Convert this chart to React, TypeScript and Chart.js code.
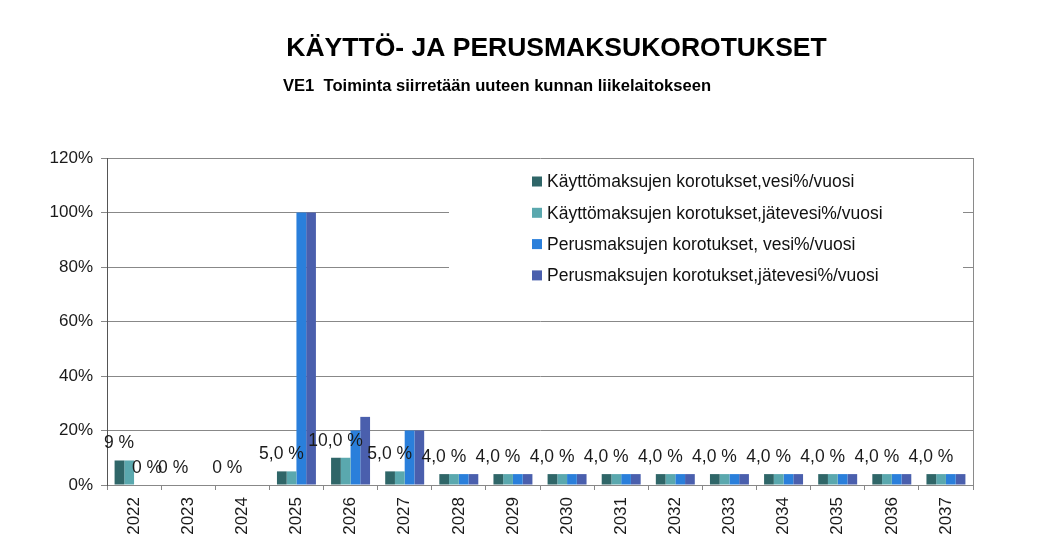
import React, { useEffect, useRef } from "react";
import { Chart, registerables } from "chart.js";

Chart.register(...registerables);

const titleText = "KÄYTTÖ- JA PERUSMAKSUKOROTUKSET";
const subtitleText = "VE1  Toiminta siirretään uuteen kunnan liikelaitokseen";

const years = ["2022", "2023", "2024", "2025", "2026", "2027", "2028", "2029", "2030", "2031", "2032", "2033", "2034", "2035", "2036", "2037"];

const seriesNames = [
  "Käyttömaksujen korotukset,vesi%/vuosi",
  "Käyttömaksujen korotukset,jätevesi%/vuosi",
  "Perusmaksujen korotukset, vesi%/vuosi",
  "Perusmaksujen korotukset,jätevesi%/vuosi",
];

const kayttoVesi = [9, 0, 0, 5, 10, 5, 4, 4, 4, 4, 4, 4, 4, 4, 4, 4];
const kayttoJatevesi = [9, 0, 0, 5, 10, 5, 4, 4, 4, 4, 4, 4, 4, 4, 4, 4];
const perusVesi = [0, 0, 0, 100, 20, 20, 4, 4, 4, 4, 4, 4, 4, 4, 4, 4];
const perusJatevesi = [0, 0, 0, 100, 25, 20, 4, 4, 4, 4, 4, 4, 4, 4, 4, 4];

// data labels shown (for the first series), plus one extra label near 2022
const labelTexts = ["9 %", "0 %", "0 %", "5,0 %", "10,0 %", "5,0 %", "4,0 %", "4,0 %", "4,0 %", "4,0 %", "4,0 %", "4,0 %", "4,0 %", "4,0 %", "4,0 %", "4,0 %"];
const extraLabelTexts = ["0 %", null, null, null, null, null, null, null, null, null, null, null, null, null, null, null];

const yTicks = [0, 20, 40, 60, 80, 100, 120];

const colors = ["#2f6668", "#5aa8ae", "#2a7fdb", "#4a5fad"];
const FONT = "'Liberation Sans', Arial, sans-serif";

export default function App() {
  const ref = useRef<HTMLCanvasElement | null>(null);

  useEffect(() => {
    if (!ref.current) return;

    const decor = {
      id: "decor",
      beforeDatasetsDraw(chart: any) {
        const { ctx, chartArea } = chart;
        ctx.save();
        // right border of plot area
        ctx.strokeStyle = "#8a8a8a";
        ctx.lineWidth = 1;
        ctx.beginPath();
        ctx.moveTo(Math.round(chartArea.right) + 0.5, chartArea.top);
        ctx.lineTo(Math.round(chartArea.right) + 0.5, chartArea.bottom);
        ctx.stroke();
        // legend box (white, covers gridlines)
        ctx.fillStyle = "#ffffff";
        ctx.fillRect(441, 151.5, 514, 161);
        ctx.font = `17.5px ${FONT}`;
        ctx.textBaseline = "middle";
        ctx.textAlign = "left";
        seriesNames.forEach((name, i) => {
          const y = 173.5 + i * 31.3;
          ctx.fillStyle = colors[i];
          ctx.fillRect(524, y - 5, 10, 10);
          ctx.fillStyle = "#111";
          ctx.fillText(name, 539, y + 1);
        });
        ctx.restore();
      },
      afterDatasetsDraw(chart: any) {
        const { ctx } = chart;
        const xs = chart.scales.x;
        const ys = chart.scales.y;
        ctx.save();
        ctx.font = `17.5px ${FONT}`;
        ctx.fillStyle = "#1a1a1a";
        ctx.textAlign = "center";
        ctx.textBaseline = "middle";
        labelTexts.forEach((t, i) => {
          if (!t) return;
          const x = xs.getPixelForValue(i) - 15;
          const y = ys.getPixelForValue(kayttoVesi[i]) - 17;
          ctx.fillText(t, x, y);
        });
        extraLabelTexts.forEach((t, i) => {
          if (!t) return;
          const x = xs.getPixelForValue(i) + 13;
          const y = ys.getPixelForValue(perusVesi[i]) - 17;
          ctx.fillText(t, x, y);
        });
        // titles
        ctx.fillStyle = "#000";
        ctx.font = `bold 26.5px ${FONT}`;
        ctx.textAlign = "center";
        ctx.fillText(titleText, 548.5, 40.5);
        ctx.font = `bold 17px ${FONT}`;
        ctx.textAlign = "left";
        const w = ctx.measureText(subtitleText).width;
        const target = 428;
        ctx.translate(275, 78.5);
        ctx.scale(target / w, 1);
        ctx.fillText(subtitleText, 0, 0);
        ctx.restore();
      },
    };

    const chart = new Chart(ref.current, {
      type: "bar",
      data: {
        labels: years,
        datasets: [kayttoVesi, kayttoJatevesi, perusVesi, perusJatevesi].map((d, i) => ({
          label: seriesNames[i],
          data: d,
          backgroundColor: colors[i],
          borderWidth: 0,
          barPercentage: 1,
          categoryPercentage: 0.72,
        })),
      },
      options: {
        animation: false,
        responsive: true,
        maintainAspectRatio: false,
        layout: { padding: { top: 150, right: 62, left: 0, bottom: 0 } },
        plugins: {
          legend: { display: false },
          title: { display: false },
          tooltip: { enabled: false },
        },
        scales: {
          x: {
            grid: {
              display: true,
              drawOnChartArea: false,
              drawTicks: true,
              tickLength: 5,
              color: "#888",
              offset: true,
            },
            border: { color: "#888" },
            ticks: {
              minRotation: 90,
              maxRotation: 90,
              autoSkip: false,
              padding: 7,
              color: "#1a1a1a",
              font: { family: FONT, size: 17 },
            },
            afterFit: (s: any) => {
              s.height = 65;
            },
          },
          y: {
            min: 0,
            max: 120,
            afterBuildTicks: (s: any) => {
              s.ticks = yTicks.map((v) => ({ value: v }));
            },
            grid: { color: "#888", tickLength: 6 },
            border: { color: "#555" },
            ticks: {
              padding: 8,
              color: "#1a1a1a",
              font: { family: FONT, size: 17 },
              callback: (v: any) => `${v}%`,
            },
            afterFit: (s: any) => {
              s.width = 99;
            },
          },
        },
      },
      plugins: [decor],
    });

    return () => chart.destroy();
  }, []);

  return (
    <div style={{ width: "1027px", height: "542px", position: "relative" }}>
      <canvas ref={ref} />
    </div>
  );
}
